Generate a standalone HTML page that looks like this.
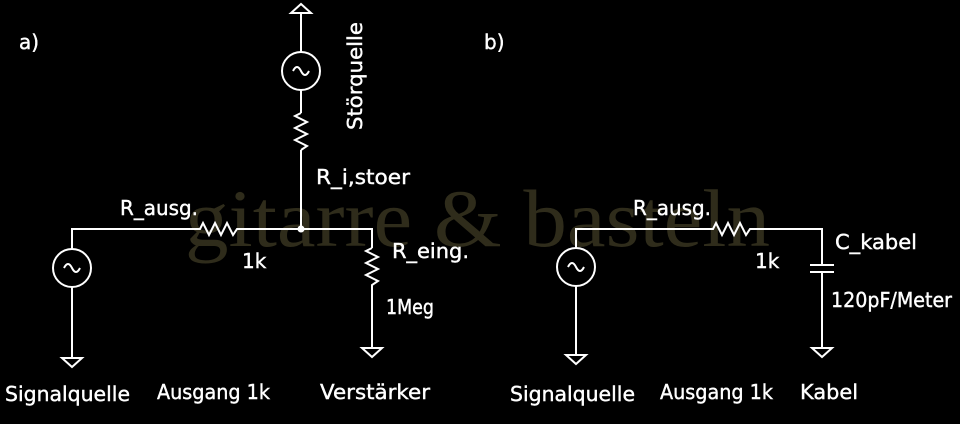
<!DOCTYPE html>
<html><head><meta charset="utf-8"><style>
html,body{margin:0;padding:0;background:#000;width:960px;height:424px;overflow:hidden}
svg{display:block}
.t{font-family:"DejaVu Sans","Liberation Sans",sans-serif;fill:#fff;font-size:20px;stroke:#fff;stroke-width:0.4}
</style></head><body>
<svg width="960" height="424" viewBox="0 0 960 424" xmlns="http://www.w3.org/2000/svg">
<rect width="960" height="424" fill="#000"/>
<text x="185" y="246" font-family="Liberation Serif,serif" font-size="82" fill="#2f2c1b" textLength="585" lengthAdjust="spacingAndGlyphs">gitarre &amp; basteln</text>
<g stroke="#fff" stroke-width="2" fill="none">
<polygon points="291,13 301,4 311,13"/>
<line x1="301" y1="13" x2="301" y2="52"/>
<circle cx="301" cy="71" r="19"/>
<path d="M293,71 q4,-8 8,0 q4,8 8,0"/>
<line x1="301" y1="90" x2="301" y2="113"/>
<polyline points="301,113 295,116 307,122 295,128 307,134 295,140 307,146 301,150"/>
<line x1="301" y1="150" x2="301" y2="229"/>
<polyline points="72,249 72,229 200,229 203,223 209,235 215,223 221,235 227,223 233,235 237,229 372,229 372,248"/>
<polyline points="372,248 366,251 378,257 366,263 378,269 366,275 378,281 372,285 372,348"/>
<polygon points="362,348 382,348 372,357"/>
<circle cx="72" cy="268" r="19"/>
<path d="M64,268 q4,-8 8,0 q4,8 8,0"/>
<line x1="72" y1="287" x2="72" y2="358"/>
<polygon points="62,358 82,358 72,367"/>
<polyline points="576,248 576,229 713,229 716,223 722,235 728,223 734,235 740,223 746,235 750,229 822,229 822,265"/>
<line x1="810" y1="265" x2="834" y2="265"/>
<line x1="810" y1="272" x2="834" y2="272"/>
<line x1="822" y1="272" x2="822" y2="348"/>
<polygon points="812,348 832,348 822,357"/>
<circle cx="576" cy="267" r="19"/>
<path d="M568,267 q4,-8 8,0 q4,8 8,0"/>
<line x1="576" y1="286" x2="576" y2="355"/>
<polygon points="566,355 586,355 576,364"/>
</g>
<circle cx="301" cy="229" r="3.5" fill="#fff"/>
<text class="t" x="19" y="49">a)</text>
<text class="t" x="484" y="49">b)</text>
<text class="t" transform="translate(362,130) rotate(-90)" textLength="108" lengthAdjust="spacingAndGlyphs">Störquelle</text>
<text class="t" x="316" y="184" textLength="94" lengthAdjust="spacingAndGlyphs">R_i,stoer</text>
<text class="t" x="120" y="215" textLength="78" lengthAdjust="spacingAndGlyphs">R_ausg.</text>
<text class="t" x="242" y="268" font-size="17">1k</text>
<text class="t" x="392" y="258" textLength="77" lengthAdjust="spacingAndGlyphs">R_eing.</text>
<text class="t" x="386" y="314" font-size="17" textLength="48" lengthAdjust="spacingAndGlyphs">1Meg</text>
<text class="t" x="5" y="401" textLength="125" lengthAdjust="spacingAndGlyphs">Signalquelle</text>
<text class="t" x="157" y="399" textLength="113" lengthAdjust="spacingAndGlyphs">Ausgang 1k</text>
<text class="t" x="320" y="399" textLength="110" lengthAdjust="spacingAndGlyphs">Verstärker</text>
<text class="t" x="633" y="215" textLength="78" lengthAdjust="spacingAndGlyphs">R_ausg.</text>
<text class="t" x="755" y="268" font-size="17">1k</text>
<text class="t" x="835" y="249" textLength="82" lengthAdjust="spacingAndGlyphs">C_kabel</text>
<text class="t" x="831" y="307" font-size="17" textLength="121" lengthAdjust="spacingAndGlyphs">120pF/Meter</text>
<text class="t" x="510" y="401" textLength="125" lengthAdjust="spacingAndGlyphs">Signalquelle</text>
<text class="t" x="660" y="399" textLength="113" lengthAdjust="spacingAndGlyphs">Ausgang 1k</text>
<text class="t" x="800" y="399" textLength="58" lengthAdjust="spacingAndGlyphs">Kabel</text>
</svg>
</body></html>
